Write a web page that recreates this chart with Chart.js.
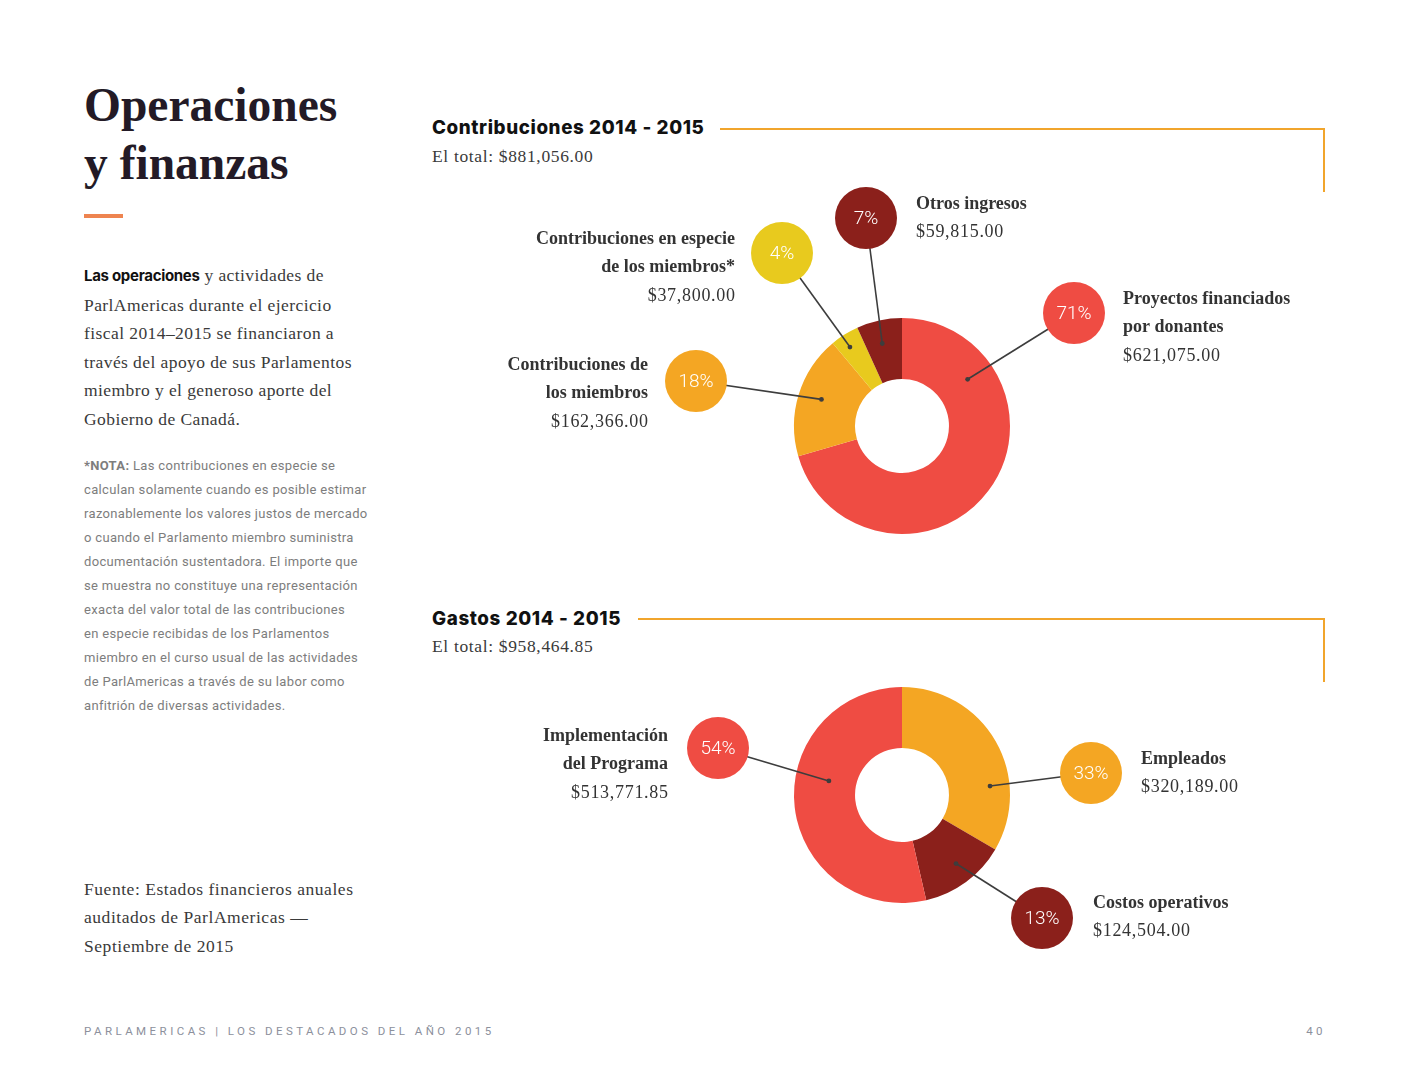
<!DOCTYPE html>
<html lang="es">
<head>
<meta charset="utf-8">
<script src="https://cdn.jsdelivr.net/npm/chart.js@4"></script>
<style>
  html, body { margin: 0; padding: 0; background: #fff; }
  body { width: 1408px; height: 1088px; position: relative; overflow: hidden; font-family: "Liberation Serif", serif; color: #3a3a3a; }
  .abs { position: absolute; }
  .title { left: 84px; top: 76px; font-family: "Liberation Serif", serif; font-weight: bold; font-size: 47.5px; line-height: 58px; color: #231a26; }
  .bar { left: 84px; top: 214px; width: 39px; height: 4px; background: #EE8450; }
  .para { left: 84px; top: 261px; font-size: 17.5px; line-height: 28.6px; color: #3a3a3a; letter-spacing: 0.42px; }
  .para b { font-family: Inter, sans-serif; font-weight: 700; font-size: 15px; color: #111; letter-spacing: -0.3px; }
  .note { left: 84px; top: 454px; font-family: Roboto, sans-serif; font-size: 13px; line-height: 24px; color: #7d7d7d; letter-spacing: 0.33px; }
  .note b { font-weight: 700; }
  .src { left: 84px; top: 875px; font-size: 17.5px; line-height: 28.4px; color: #3a3a3a; letter-spacing: 0.55px; }
  .footer { left: 84px; top: 1024px; font-family: Roboto, sans-serif; font-size: 11.5px; letter-spacing: 3.45px; color: #8c909c; }
  .page { right: 82px; top: 1024px; font-family: Roboto, sans-serif; font-size: 11.5px; letter-spacing: 3.45px; color: #8c909c; }
  .head { font-family: Inter, sans-serif; font-weight: 800; font-size: 18.8px; color: #111; letter-spacing: 0.6px; }
  .total { font-size: 17.5px; color: #3a3a3a; letter-spacing: 0.65px; }
  .hline { height: 2px; background: #F1A52C; }
  .vline { width: 2px; background: #F1A52C; }
  canvas { position: absolute; }
</style>
</head>
<body>
<div class="abs title">Operaciones<br>y finanzas</div>
<div class="abs bar"></div>
<div class="abs para"><b>Las operaciones</b> y actividades de<br>ParlAmericas durante el ejercicio<br>fiscal 2014–2015 se financiaron a<br>través del apoyo de sus Parlamentos<br>miembro y el generoso aporte del<br>Gobierno de Canadá.</div>
<div class="abs note"><b>*NOTA:</b> Las contribuciones en especie se<br>calculan solamente cuando es posible estimar<br>razonablemente los valores justos de mercado<br>o cuando el Parlamento miembro suministra<br>documentación sustentadora. El importe que<br>se muestra no constituye una representación<br>exacta del valor total de las contribuciones<br>en especie recibidas de los Parlamentos<br>miembro en el curso usual de las actividades<br>de ParlAmericas a través de su labor como<br>anfitrión de diversas actividades.</div>
<div class="abs src">Fuente: Estados financieros anuales<br>auditados de ParlAmericas —<br>Septiembre de 2015</div>
<div class="abs footer">PARLAMERICAS | LOS DESTACADOS DEL AÑO 2015</div>
<div class="abs page">40</div>

<div class="abs head" style="left:432px; top:116px;">Contribuciones 2014 - 2015</div>
<div class="abs total" style="left:432px; top:146px;">El total: $881,056.00</div>
<div class="abs hline" style="left:720px; top:128px; width:605px;"></div>
<div class="abs vline" style="left:1323px; top:128px; height:64px;"></div>

<div class="abs head" style="left:432px; top:607px;">Gastos 2014 - 2015</div>
<div class="abs total" style="left:432px; top:636px;">El total: $958,464.85</div>
<div class="abs hline" style="left:638px; top:618px; width:687px;"></div>
<div class="abs vline" style="left:1323px; top:618px; height:64px;"></div>

<canvas id="c1" width="960" height="390" style="left:420px; top:170px;"></canvas>
<canvas id="c2" width="960" height="310" style="left:420px; top:660px;"></canvas>

<script>
// ---- Data ----
const contribCategories = [["Proyectos financiados", "por donantes"], ["Contribuciones de", "los miembros"], ["Contribuciones en especie", "de los miembros*"], ["Otros ingresos"]];
const contribValues = [621075.00, 162366.00, 37800.00, 59815.00];
const contribPercents = [71, 18, 4, 7];
const contribColors = ["#EF4C43", "#F4A623", "#E8CA1E", "#8B201B"];

const gastosCategories = [["Empleados"], ["Costos operativos"], ["Implementación", "del Programa"]];
const gastosValues = [320189.00, 124504.00, 513771.85];
const gastosPercents = [33, 13, 54];
const gastosColors = ["#F4A623", "#8B201B", "#EF4C43"];

// ---- Callout layout (bubble offset from centre, anchor position in slice, label side/offset) ----
const contribLayout = [
  { bx: 172, by: -113, t: 0.215, rf: 0.55, side: "left", lx: 49, ly: -14 },
  { bx: -206, by: -45, t: 0.52, rf: 0.62, side: "right", lx: -48, ly: -16 },
  { bx: -120, by: -173, t: 0.42, rf: 0.78, side: "right", lx: -47, ly: -14 },
  { bx: -36, by: -208, t: 0.45, rf: 0.62, side: "left", lx: 50, ly: -14 }
];
const gastosLayout = [
  { bx: 189, by: -22, t: 0.70, rf: 0.68, side: "left", lx: 50, ly: -14 },
  { bx: 140, by: 123, t: 0.46, rf: 0.66, side: "left", lx: 51, ly: -15 },
  { bx: -184, by: -47, t: 0.59, rf: 0.45, side: "right", lx: -50, ly: -12 }
];

const fmt = v => "$" + v.toLocaleString("en-US", { minimumFractionDigits: 2, maximumFractionDigits: 2 });

const calloutPlugin = {
  id: "callouts",
  afterDatasetsDraw(chart, args, opts) {
    const ctx = chart.ctx;
    const meta = chart.getDatasetMeta(0);
    const values = chart.data.datasets[0].data;
    const colors = chart.data.datasets[0].backgroundColor;
    const cats = opts.categories;
    const layout = opts.layout;
    const pcts = opts.percents;
    const R = 31;
    meta.data.forEach((arc, i) => {
      const p = arc.getProps(["x", "y", "startAngle", "endAngle", "innerRadius", "outerRadius"], true);
      const L = layout[i];
      const ang = p.startAngle + L.t * (p.endAngle - p.startAngle);
      const rad = p.innerRadius + L.rf * (p.outerRadius - p.innerRadius);
      const ax = p.x + Math.cos(ang) * rad;
      const ay = p.y + Math.sin(ang) * rad;
      const bx = p.x + L.bx, by = p.y + L.by;
      ctx.save();
      // leader line
      ctx.strokeStyle = "#3d3d3d";
      ctx.lineWidth = 1.6;
      ctx.beginPath();
      ctx.moveTo(bx, by);
      ctx.lineTo(ax, ay);
      ctx.stroke();
      ctx.fillStyle = "#3d3d3d";
      ctx.beginPath();
      ctx.arc(ax, ay, 2.4, 0, Math.PI * 2);
      ctx.fill();
      // bubble
      ctx.fillStyle = colors[i];
      ctx.beginPath();
      ctx.arc(bx, by, R, 0, Math.PI * 2);
      ctx.fill();
      ctx.fillStyle = "#fff";
      ctx.font = "300 19px Roboto, sans-serif";
      ctx.textAlign = "center";
      ctx.textBaseline = "middle";
      ctx.fillText(pcts[i] + "%", bx, by + 1);
      // labels
      ctx.textAlign = L.side;
      ctx.fillStyle = "#333";
      const lines = cats[i];
      let y = by + L.ly;
      ctx.font = "bold 18px 'Liberation Serif', serif";
      ctx.letterSpacing = "0px";
      lines.forEach(s => { ctx.fillText(s, bx + L.lx, y); y += 28.6; });
      ctx.font = "18px 'Liberation Serif', serif";
      ctx.letterSpacing = "0.7px";
      ctx.fillText(fmt(values[i]), bx + L.lx + (L.side === "right" ? 0.7 : 0), y);
      ctx.restore();
    });
  }
};

function makeDonut(id, cats, values, pcts, colors, layout, pad) {
  return new Chart(document.getElementById(id), {
    type: "doughnut",
    data: {
      labels: cats.map(c => c.join(" ")),
      datasets: [{ data: values, backgroundColor: colors, borderWidth: 0, hoverOffset: 0 }]
    },
    options: {
      responsive: false,
      animation: false,
      cutout: "43.5%",
      layout: { padding: pad },
      plugins: {
        legend: { display: false },
        tooltip: { enabled: false },
        callouts: { categories: cats, layout: layout, percents: pcts }
      },
      events: []
    },
    plugins: [calloutPlugin]
  });
}

makeDonut("c1", contribCategories, contribValues, contribPercents, contribColors, contribLayout, { left: 374, right: 370, top: 148, bottom: 26 });
makeDonut("c2", gastosCategories, gastosValues, gastosPercents, gastosColors, gastosLayout, { left: 374, right: 370, top: 27, bottom: 67 });
</script>
</body>
</html>
